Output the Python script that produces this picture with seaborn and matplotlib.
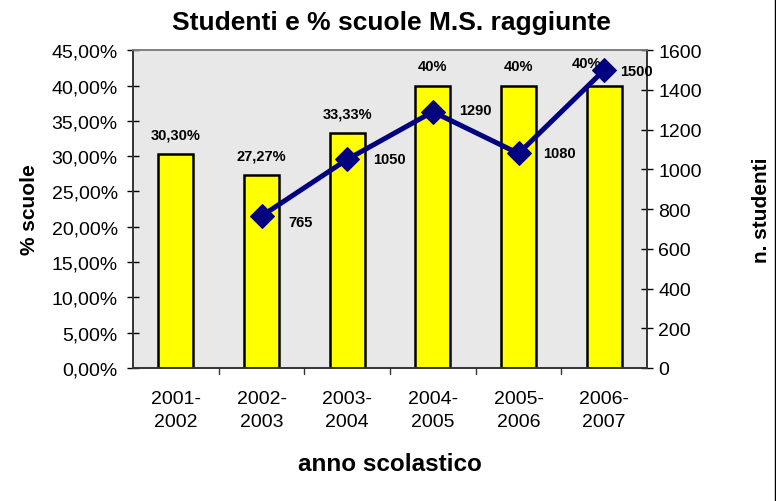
import numpy as np
import pandas as pd
import seaborn as sns
import matplotlib.pyplot as plt
from matplotlib.lines import Line2D
from matplotlib.ticker import FuncFormatter, MultipleLocator

# dati
anni = ["2001-\n2002", "2002-\n2003", "2003-\n2004", "2004-\n2005", "2005-\n2006", "2006-\n2007"]
perc_scuole = [30.30, 27.27, 33.33, 40.0, 40.0, 40.0]
etichette_perc = ["30,30%", "27,27%", "33,33%", "40%", "40%", "40%"]
studenti = [np.nan, 765, 1050, 1290, 1080, 1500]

sns.set_style("white")
plt.rcParams['font.family'] = ['Liberation Sans', 'DejaVu Sans']
plt.rcParams['text.color'] = 'black'
plt.rcParams['axes.labelcolor'] = 'black'
plt.rcParams['xtick.color'] = 'black'
plt.rcParams['ytick.color'] = 'black'

df = pd.DataFrame({"anno": anni, "perc": perc_scuole, "studenti": studenti})
df["pos"] = range(len(df))

fig = plt.figure(figsize=(7.76, 5.02), dpi=100)
ax = fig.add_axes([0.1714, 0.265, 0.6624, 0.633])
ax.set_facecolor("#e8e8e8")

sns.barplot(data=df, x="anno", y="perc", color="#ffff00", edgecolor="black",
            linewidth=1.8, width=0.41, saturation=1, ax=ax)
ax.set_xlim(-0.5, len(anni) - 0.5)
ax.set_ylim(0, 45)
ax.yaxis.set_major_locator(MultipleLocator(5))
ax.yaxis.set_major_formatter(FuncFormatter(lambda v, p: f"{v:.2f}%".replace(".", ",")))

for i, (v, lab) in enumerate(zip(perc_scuole, etichette_perc)):
    dx, dy = (-13, 11) if i == len(anni) - 1 else (0, 9)
    ax.annotate(lab, (i, v), xytext=(dx, dy), textcoords="offset points",
                ha="center", va="bottom", fontsize=10.5, fontweight="bold")

# ticks on category boundaries for x
ax.set_xticks([i for i in range(len(anni))])
ax.set_xticklabels(anni, fontsize=14, linespacing=1.45)
ax.tick_params(axis="x", length=0, pad=16)
for b in np.arange(0.5, len(anni) - 0.5, 1.0):
    ax.plot([b, b], [0, -0.02], transform=ax.get_xaxis_transform(), color="#333333",
            lw=1, clip_on=False)
ax.tick_params(axis="y", direction="inout", length=8, width=1, labelsize=14, pad=7)
ax.set_xlabel("anno scolastico", fontsize=17.5, fontweight="bold", labelpad=16)
ax.set_ylabel("% scuole", fontsize=15, fontweight="bold", labelpad=9)

ax2 = ax.twinx()
sns.lineplot(data=df.dropna(), x="pos", y="studenti", color="#000080", lw=3.6,
             marker="D", markersize=12, markeredgecolor="#000080", ax=ax2)
ax2.set_ylim(0, 1600)
ax2.set_xlim(-0.5, len(anni) - 0.5)
ax2.yaxis.set_major_locator(MultipleLocator(200))
ax2.tick_params(axis="y", direction="inout", length=8, width=1, labelsize=14, pad=4)
ax2.set_ylabel("n. studenti", fontsize=15, fontweight="bold", labelpad=36)
ax2.set_xlabel("")

# posizione delle etichette della linea (punti)
spost = {1: (19, -4), 2: (19, 0), 3: (19, 1), 4: (18, 0), 5: (11.5, -1)}
for i, v in enumerate(studenti):
    if np.isnan(v):
        continue
    ax2.annotate(f"{int(v)}", (i, v), xytext=spost[i], textcoords="offset points",
                 ha="left", va="center", fontsize=10.5, fontweight="bold")

for a in (ax, ax2):
    a.spines["top"].set_color("#808080")
    a.spines["left"].set_color("#333333")
    a.spines["right"].set_color("#333333")
    a.spines["bottom"].set_color("#333333")
    for s in a.spines.values():
        s.set_linewidth(1.2)

fig.suptitle("Studenti e % scuole M.S. raggiunte", x=0.505, y=0.978,
             fontsize=19, fontweight="bold")
fig.add_artist(Line2D([0.9985, 0.9985], [0, 1], transform=fig.transFigure,
                      color="black", lw=1))

fig.savefig("out.png", dpi=100)
